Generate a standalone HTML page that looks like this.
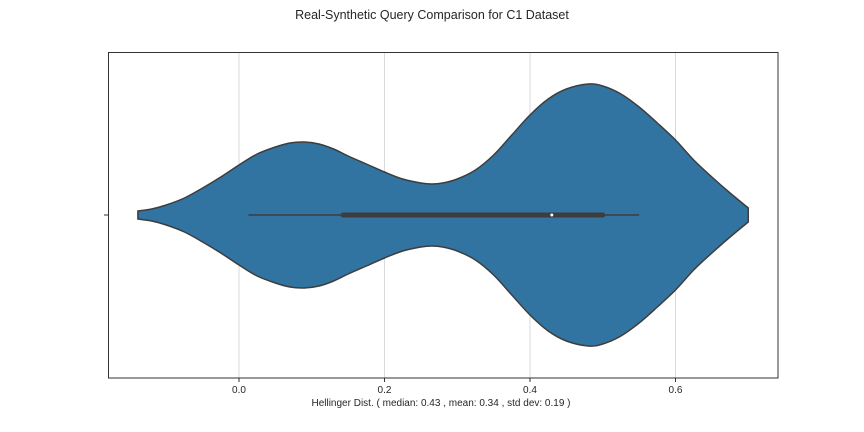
<!DOCTYPE html>
<html><head><meta charset="utf-8"><style>
body{margin:0;background:#fff;}
svg{display:block;font-family:"Liberation Sans","DejaVu Sans",sans-serif;}
</style></head><body>
<svg id="chart" width="864" height="432">
<text x="432" y="19" text-anchor="middle" font-size="12.5" fill="#262626">Real-Synthetic Query Comparison for C1 Dataset</text>
<g id="grid"></g>
<g id="violin"></g>
<rect x="108.5" y="52.5" width="669.5" height="325.5" fill="none" stroke="#333" stroke-width="1"/>
<line x1="104" y1="215" x2="108" y2="215" stroke="#333"/>
<g id="ticks"></g>
<text x="441" y="406" text-anchor="middle" font-size="10" fill="#262626">Hellinger Dist. ( median: 0.43 , mean: 0.34 , std dev: 0.19 )</text>
</svg>
<script>
const tickValues=[0.0,0.2,0.4,0.6];
const tickLabels=["0.0","0.2","0.4","0.6"];
const densityX=[-0.139,-0.12,-0.1,-0.075,-0.05,-0.025,0,0.025,0.05,0.07,0.09,0.11,0.13,0.15,0.175,0.2,0.225,0.25,0.265,0.28,0.3,0.325,0.35,0.375,0.4,0.425,0.45,0.48,0.5,0.525,0.55,0.575,0.6,0.625,0.65,0.675,0.7];
const densityW=[4,6,10,17,27,38,50,61,68,72,73,71,66,59,51,43,36,32,31,32,36,45,60,80,100,116,126,131,129,121,108,92,75,55,38,22,7];
const whiskerLow=0.013, whiskerHigh=0.55, q1=0.143, q3=0.50, median=0.43;
const NS="http://www.w3.org/2000/svg";
const xs=v=>239+v*727.5;
const cy=215;
const mk=(t,a,p)=>{const e=document.createElementNS(NS,t);for(const k in a)e.setAttribute(k,a[k]);p.appendChild(e);return e;};
const grid=document.getElementById('grid'),ticks=document.getElementById('ticks'),vg=document.getElementById('violin');
tickValues.forEach((v,i)=>{
 const l=mk('line',{x1:xs(v),x2:xs(v),y1:52,y2:378,stroke:'#d9d9d9','stroke-width':1},grid);
 
 
 const t=mk('line',{x1:xs(v),x2:xs(v),y1:378,y2:382,stroke:'#333'},ticks);
 
 
 const tx=mk('text',{x:xs(v),y:393,'text-anchor':'middle','font-size':10,fill:'#262626'},ticks);
 tx.textContent=tickLabels[i];
 
 
});
function smooth(pts){
 let d='';
 for(let i=0;i<pts.length-1;i++){
  const p0=pts[Math.max(i-1,0)],p1=pts[i],p2=pts[i+1],p3=pts[Math.min(i+2,pts.length-1)];
  const c1=[p1[0]+(p2[0]-p0[0])/6,p1[1]+(p2[1]-p0[1])/6];
  const c2=[p2[0]-(p3[0]-p1[0])/6,p2[1]-(p3[1]-p1[1])/6];
  d+=` C${c1[0]},${c1[1]} ${c2[0]},${c2[1]} ${p2[0]},${p2[1]}`;
 }
 return d;
}
const upperPts=densityX.map((v,i)=>[xs(v),cy-densityW[i]]);
const lowerPts=densityX.map((v,i)=>[xs(v),cy+densityW[i]]).reverse();
const d=`M${upperPts[0][0]},${upperPts[0][1]}`+smooth(upperPts)+` L${lowerPts[0][0]},${lowerPts[0][1]}`+smooth(lowerPts)+'Z';
const body=mk('path',{d:d,fill:'#3274a1',stroke:'#3d3d3d','stroke-width':1.5},vg);


const wh=mk('line',{x1:xs(whiskerLow),x2:xs(whiskerHigh),y1:cy,y2:cy,stroke:'#3d3d3d','stroke-width':1.5},vg);


const bx=mk('line',{x1:xs(q1),x2:xs(q3),y1:cy,y2:cy,stroke:'#3d3d3d','stroke-width':5,'stroke-linecap':'round'},vg);


const md=mk('circle',{cx:xs(median),cy:cy,r:1.5,fill:'#fff'},vg);


</script>
</body></html>
